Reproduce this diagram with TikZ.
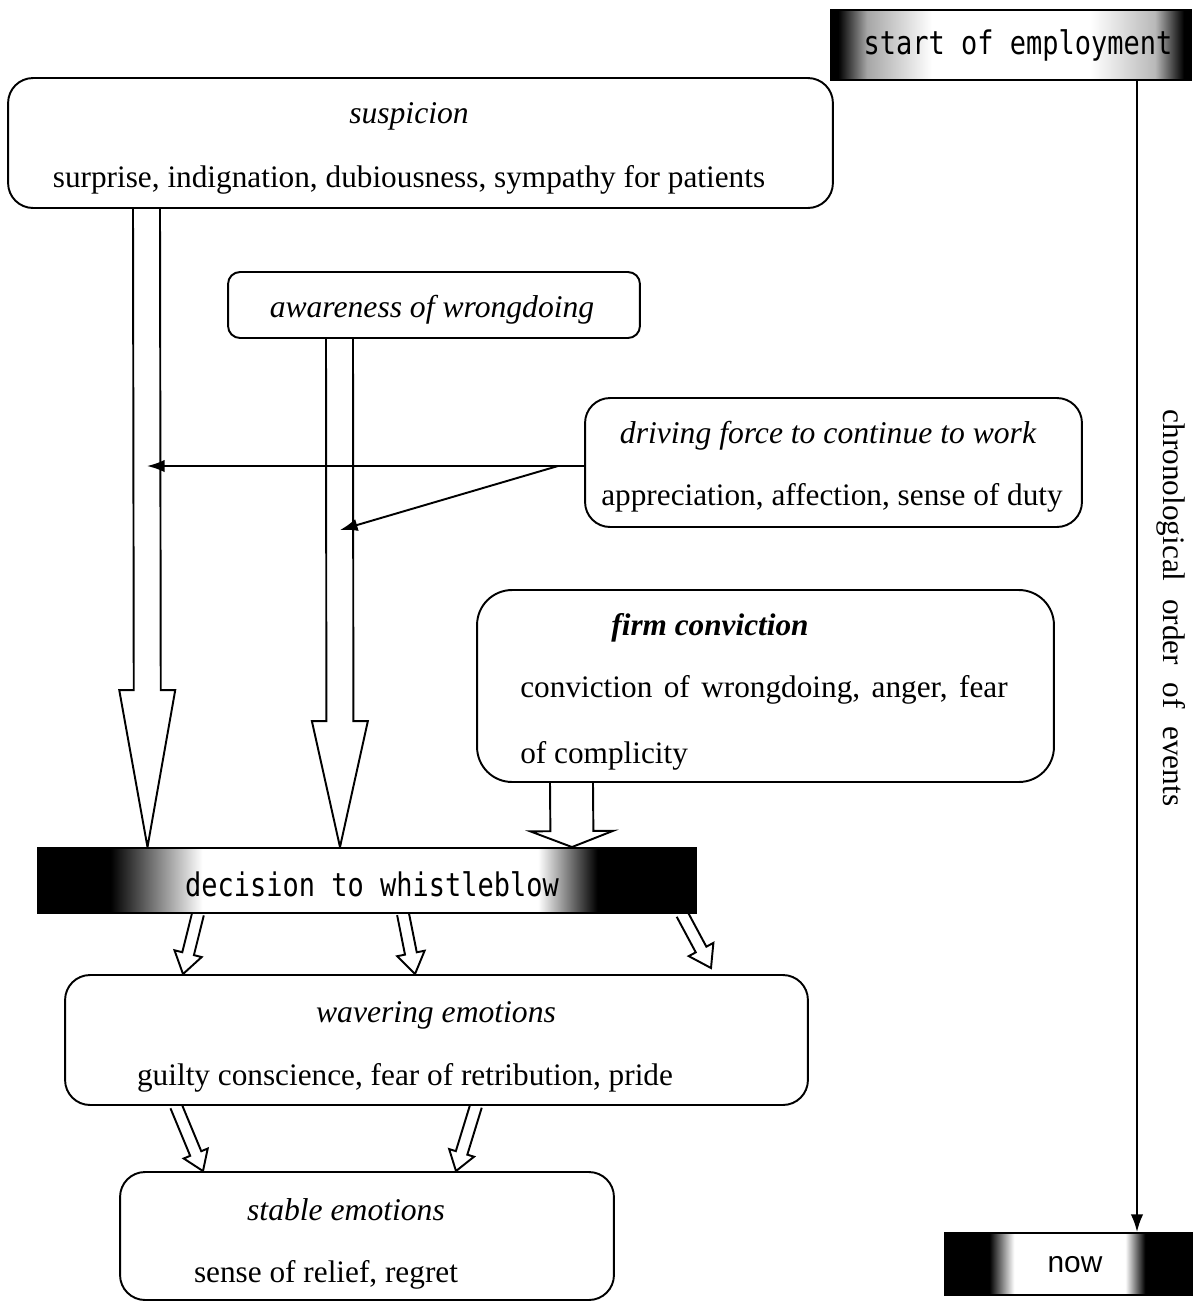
\documentclass[tikz,border=0pt]{standalone}
\usepackage{fontspec}
\setmainfont{Liberation Serif}
\newfontfamily\gothicf[FakeStretch=0.83]{DejaVu Sans Mono}
\newfontfamily\arialf{Liberation Sans}
\usetikzlibrary{calc,arrows.meta}
\pgfdeclarelayer{bg}
\pgfsetlayers{bg,main}
\pgfdeclarehorizontalshading{decshade}{100bp}{color(0bp)=(black); color(30.5bp)=(black); color(37.5bp)=(white); color(63bp)=(white); color(67.5bp)=(black); color(100bp)=(black)}
\pgfdeclarehorizontalshading{startshade}{100bp}{color(0bp)=(black); color(26bp)=(black); color(30bp)=(gray!70); color(39bp)=(white); color(61bp)=(white); color(70bp)=(gray!55); color(74bp)=(black); color(100bp)=(black)}
\pgfdeclarehorizontalshading{nowshade}{100bp}{color(0bp)=(black); color(34bp)=(black); color(39bp)=(white); color(61.5bp)=(white); color(65.5bp)=(black); color(100bp)=(black)}
\newcommand\wsp{\hspace{6.5pt}}
\newcommand\chsp{\hspace{10pt}}
% block arrow: start, tip, shaft half width, head half width, head length
\newcommand\blockarr[5]{%
  \coordinate (hb) at ($(#2)!#5!(#1)$);
  \begin{pgfonlayer}{bg}
  \fill[white] ($(#1)!#3!90:(#2)$) -- ($(hb)!#3!90:(#2)$) -- ($(hb)!#4!90:(#2)$) -- (#2)
     -- ($(hb)!#4!-90:(#2)$) -- ($(hb)!#3!-90:(#2)$) -- ($(#1)!#3!-90:(#2)$) -- cycle;
  \draw[blk] ($(#1)!#3!90:(#2)$) -- ($(hb)!#3!90:(#2)$) -- ($(hb)!#4!90:(#2)$) -- (#2)
     -- ($(hb)!#4!-90:(#2)$) -- ($(hb)!#3!-90:(#2)$) -- ($(#1)!#3!-90:(#2)$);
  \end{pgfonlayer}}
\begin{document}
\begin{tikzpicture}[x=0.02cm,y=-0.02cm,
  box/.style={draw, fill=white, line width=1.1pt, rounded corners=0.5cm, inner sep=0pt},
  dark/.style={draw, line width=1.1pt, inner sep=0pt, shade},
  blk/.style={line width=1.1pt, line join=miter},
  body/.style={font=\fontsize{17.8}{21}\selectfont, inner sep=0pt},
  ttl/.style={font=\fontsize{18}{21}\selectfont\itshape, inner sep=0pt},
  gothic/.style={font=\fontsize{18.5}{21}\gothicf, inner sep=0pt},
  thin/.style={line width=1.1pt, -{Latex[length=10pt,width=7pt]}}]
\useasboundingbox (0,0) rectangle (1198,1303);

% boxes
\node[box, minimum width=16.5cm, minimum height=2.6cm] (susp) at (420.5,143) {};
\node[box, rounded corners=0.24cm, minimum width=8.24cm, minimum height=1.32cm] (aware) at (434,305) {};
\node[box, minimum width=9.94cm, minimum height=2.58cm] (drive) at (833.5,462.5) {};
\node[box, rounded corners=0.7cm, minimum width=11.54cm, minimum height=3.84cm] (firm) at (765.5,686) {};
\node[dark, shading=decshade, minimum width=13.16cm, minimum height=1.3cm] (dec) at (367,880.5) {};
\node[box, minimum width=14.86cm, minimum height=2.6cm] (wav) at (436.5,1040) {};
\node[box, minimum width=9.88cm, minimum height=2.56cm] (stab) at (367,1236) {};
\node[dark, shading=startshade, minimum width=7.2cm, minimum height=1.4cm] (start) at (1011,45) {};
\node[dark, shading=nowshade, minimum width=4.94cm, minimum height=1.24cm] (now) at (1068.5,1264) {};

% texts
\node[ttl] (t1) at (409,116) {suspicion};
\node[body] (b1) at (409,180) {surprise, indignation, dubiousness, sympathy for patients};
\node[ttl] (t2) at (432,310) {awareness of wrongdoing};
\node[ttl] (t3) at (828,436) {driving force to continue to work};
\node[body] (b3) at (832,498) {appreciation, affection, sense of duty};
\node[ttl, font=\fontsize{17.8}{21}\selectfont\bfseries\itshape] (t4) at (710,628) {firm conviction};
\node[body, anchor=west] (b4a) at (520,690) {conviction\wsp of\wsp wrongdoing,\wsp anger,\wsp fear};
\node[body, anchor=west] (b4b) at (520,756) {of complicity};
\node[gothic] (t5) at (372,884) {decision to whistleblow};
\node[ttl] (t6) at (436,1015) {wavering emotions};
\node[body] (b6) at (405,1078) {guilty conscience, fear of retribution, pride};
\node[ttl] (t7) at (346,1210) {stable emotions};
\node[body] (b7) at (326,1275) {sense of relief, regret};
\node[gothic] (t8) at (1018,45) {start of employment};
\node[font=\fontsize{17}{20}\arialf, inner sep=0pt] (t9) at (1075,1265) {now};
\node[body, rotate=-90] (t10) at (1171,608) {chronological\chsp order\chsp of\chsp events};

% block arrows
\coordinate (sA) at (146.5,0 |- susp.south);  \coordinate (tA) at (147.5,0 |- dec.north);
\coordinate (sB) at (339.5,0 |- aware.south); \coordinate (tB) at (340,0 |- dec.north);
\coordinate (sC) at (571.5,0 |- firm.south);  \coordinate (tC) at (572,0 |- dec.north);
\blockarr{sA}{tA}{0.27cm}{0.56cm}{3.14cm}
\blockarr{sB}{tB}{0.27cm}{0.56cm}{2.52cm}
\blockarr{sC}{tC}{0.43cm}{0.83cm}{0.32cm}

\coordinate (sD1) at (198,0 |- dec.south); \coordinate (tD1) at (183,0 |- wav.north);
\coordinate (sD2) at (403,0 |- dec.south); \coordinate (tD2) at (415,0 |- wav.north);
\coordinate (sD3) at (682,0 |- dec.south); \coordinate (tD3) at (711,968);
\blockarr{sD1}{tD1}{0.12cm}{0.28cm}{0.42cm}
\blockarr{sD2}{tD2}{0.12cm}{0.28cm}{0.42cm}
\blockarr{sD3}{tD3}{0.12cm}{0.28cm}{0.42cm}

\coordinate (sW1) at (176,0 |- wav.south); \coordinate (tW1) at (203,0 |- stab.north);
\coordinate (sW2) at (476,0 |- wav.south); \coordinate (tW2) at (456,0 |- stab.north);
\blockarr{sW1}{tW1}{0.12cm}{0.26cm}{0.38cm}
\blockarr{sW2}{tW2}{0.12cm}{0.26cm}{0.38cm}

% thin arrows from driving force
\coordinate (split) at (558,466);
\coordinate (hTip) at (147,466);
\coordinate (dTip) at (340,530);
\draw[line width=1.1pt] (drive.west |- split) -- (split);
\draw[thin] (split) -- (hTip);
\draw[thin] (split) -- (dTip);

% chronology arrow
\draw[thin] (1137,0 |- start.south) -- (1137,0 |- now.north);
\end{tikzpicture}
\end{document}
